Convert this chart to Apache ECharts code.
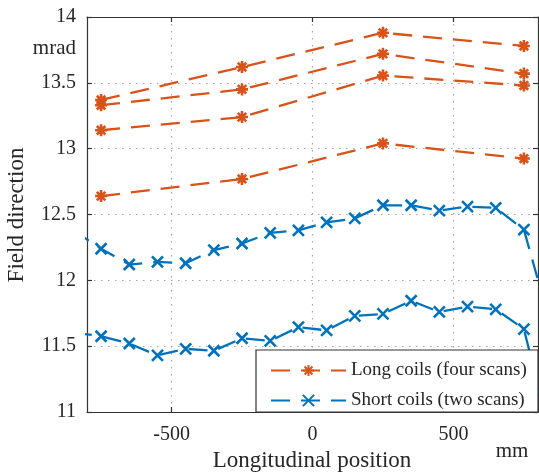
<!DOCTYPE html>
<html><head><meta charset="utf-8">
<script src="https://cdn.jsdelivr.net/npm/echarts@6/dist/echarts.min.js"></script>
<style>html,body{margin:0;padding:0;background:#fff}#c{width:539px;height:473px}</style>
</head><body><div id="c"></div>
<script>
// ---- data ----
const xLong = [-750, -250, 250, 750];
const long1 = [13.37, 13.62, 13.88, 13.78];
const long2 = [13.33, 13.45, 13.72, 13.57];
const long3 = [13.14, 13.24, 13.555, 13.48];
const long4 = [12.64, 12.77, 13.04, 12.925];

const xShort = [-850, -750, -650, -550, -450, -350, -250, -150, -50, 50, 150, 250, 350, 450, 550, 650, 750, 850];
const short1 = [12.38, 12.24, 12.12, 12.14, 12.13, 12.23, 12.28, 12.36, 12.38, 12.44, 12.47, 12.57, 12.57, 12.53, 12.56, 12.55, 12.385, 11.62];
const short2 = [11.605, 11.575, 11.52, 11.43, 11.48, 11.465, 11.56, 11.54, 11.645, 11.62, 11.73, 11.745, 11.845, 11.76, 11.80, 11.78, 11.63, 10.77];

const xTickLabels = [-500, 0, 500];
const yMin = 11, yMax = 14, yStep = 0.5;
const xMin = -800, xMax = 800;
const longName = 'Long coils (four scans)';
const shortName = 'Short coils (two scans)';

// ---- style ----
const FONT = 'Liberation Serif';
const AX = '#333333';
const TXT = '#262626';
const GRIDC = '#a3a3a3';
const ORANGE = '#D95319', BLUE = '#0072BD';
const STAR = 'path://M0,-10L0,10M-10,0L10,0M-7.07,-7.07L7.07,7.07M-7.07,7.07L7.07,-7.07';
const CROSS = 'path://M-10,-10L10,10M-10,10L10,-10';

function pairs(xs, ys) { return xs.map((x, i) => [x, ys[i]]); }
function mk(name, xs, ys, color, symbol, size) {
  return {
    name: name, type: 'line', data: pairs(xs, ys), symbol: symbol, symbolSize: size,
    clip: true, z: 2,
    lineStyle: { color: color, width: 2.3, type: [19, 11] },
    itemStyle: { color: color, borderColor: color, borderWidth: 2.6 },
    emphasis: { disabled: true }
  };
}

const chart = echarts.init(document.getElementById('c'), null, { renderer: 'canvas' });
const axisLine = { show: true, onZero: false, lineStyle: { color: AX, width: 1.2 } };
const split = { show: true, lineStyle: { color: GRIDC, type: [1.5, 5.5], width: 1.2 } };

chart.setOption({
  animation: false,
  textStyle: { fontFamily: FONT },
  grid: { left: 87, top: 17, right: 1, bottom: 61 },
  xAxis: [
    { type: 'value', min: xMin, max: xMax, position: 'bottom',
      axisLine: axisLine,
      axisTick: { show: true, inside: true, length: 5, customValues: xTickLabels, lineStyle: { color: AX, width: 1.2 } },
      axisLabel: { customValues: xTickLabels, color: TXT, fontFamily: FONT, fontSize: 20, margin: 13, formatter: v => String(v) },
      splitLine: split },
    { type: 'value', min: xMin, max: xMax, position: 'top',
      axisLine: axisLine,
      axisTick: { show: true, inside: true, length: 5, customValues: xTickLabels, lineStyle: { color: AX, width: 1.2 } },
      axisLabel: { show: false }, splitLine: { show: false } }
  ],
  yAxis: [
    { type: 'value', min: yMin, max: yMax, interval: yStep, position: 'left',
      axisLine: axisLine,
      axisTick: { show: true, inside: true, length: 5, lineStyle: { color: AX, width: 1.2 } },
      axisLabel: { color: TXT, fontFamily: FONT, fontSize: 20, margin: 11 },
      splitLine: split },
    { type: 'value', min: yMin, max: yMax, interval: yStep, position: 'right',
      axisLine: axisLine,
      axisTick: { show: true, inside: true, length: 5, lineStyle: { color: AX, width: 1.2 } },
      axisLabel: { show: false }, splitLine: { show: false } }
  ],
  legend: {
    orient: 'vertical', left: 270, top: 361, padding: 0, z: 20,
    itemWidth: 75, itemHeight: 14, itemGap: 11, selectedMode: false,
    data: [longName, shortName],
    textStyle: { fontFamily: FONT, fontSize: 19, color: TXT, lineHeight: 14 }
  },
  graphic: [
    { type: 'rect', z: 10, shape: { x: 256, y: 350, width: 282, height: 62 },
      style: { fill: '#fff', stroke: AX, lineWidth: 1.2 } },
    { type: 'text', x: 76, y: 48, style: { text: 'mrad', align: 'right', verticalAlign: 'middle', fontFamily: FONT, fontSize: 21, fill: TXT } },
    { type: 'text', x: 512, y: 451, style: { text: 'mm', align: 'center', verticalAlign: 'middle', fontFamily: FONT, fontSize: 21, fill: TXT } },
    { type: 'text', x: 312, y: 461, style: { text: 'Longitudinal position', align: 'center', verticalAlign: 'middle', fontFamily: FONT, fontSize: 23, fill: TXT } },
    { type: 'text', x: 17, y: 215, rotation: Math.PI / 2, style: { text: 'Field direction', align: 'center', verticalAlign: 'middle', fontFamily: FONT, fontSize: 23, fill: TXT } }
  ],
  series: [
    mk(longName, xLong, long1, ORANGE, STAR, 12),
    mk(longName, xLong, long2, ORANGE, STAR, 12),
    mk(longName, xLong, long3, ORANGE, STAR, 12),
    mk(longName, xLong, long4, ORANGE, STAR, 12),
    mk(shortName, xShort, short1, BLUE, CROSS, 11),
    mk(shortName, xShort, short2, BLUE, CROSS, 11)
  ]
});
</script></body></html>
